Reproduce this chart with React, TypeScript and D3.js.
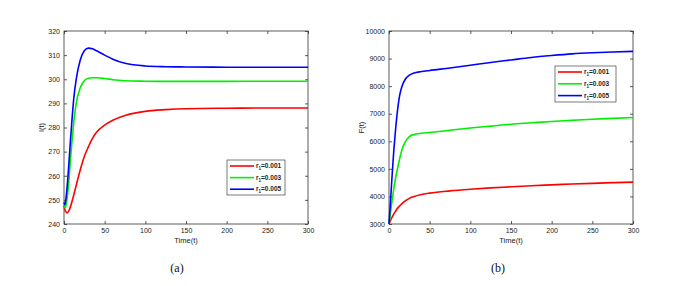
import * as d3 from "d3";
import { useEffect, useRef } from "react";

const W = 686;
const H = 286;

const TIME_TICKS = [0, 50, 100, 150, 200, 250, 300];
const I_TICKS = [240, 250, 260, 270, 280, 290, 300, 310, 320];
const F_TICKS = [3000, 4000, 5000, 6000, 7000, 8000, 9000, 10000];

const LEGEND_LABELS = ["0.001", "0.003", "0.005"];
const COLORS = ["#ff0000", "#00ee00", "#0000ff"];

// panel (a): I(t)
const tI = [0, 1, 2, 4, 6, 8, 10, 12, 15, 20, 25, 30, 35, 40, 50, 60, 75, 100, 125, 150, 200, 250, 300];
const I_r001 = [247.5, 246, 245.2, 244.6, 245.5, 247.2, 249.5, 252, 256, 262.5, 268, 272, 275.5, 278, 281, 283, 285, 286.7, 287.4, 287.8, 288, 288.1, 288.1];
const I_r003 = [248, 246.8, 247.2, 251, 258, 267, 275, 282, 290, 296.5, 299.4, 300.4, 300.6, 300.6, 300.3, 299.8, 299.4, 299.2, 299.1, 299.1, 299.1, 299.2, 299.2];
const I_r005 = [249, 248, 249.5, 256, 265, 275, 284, 292, 300, 308, 311.8, 312.9, 312.6, 311.8, 310, 308.3, 306.6, 305.5, 305.2, 305.1, 305, 305, 305];

// panel (b): F(t)
const tF = [0, 2, 4, 6, 8, 10, 13, 16, 20, 25, 30, 40, 50, 75, 100, 125, 150, 175, 200, 225, 250, 275, 300];
const F_r001 = [3000, 3140, 3260, 3370, 3460, 3550, 3650, 3740, 3840, 3930, 3990, 4070, 4120, 4200, 4260, 4310, 4350, 4390, 4420, 4450, 4475, 4500, 4520];
const F_r003 = [3000, 3450, 3900, 4300, 4650, 4950, 5350, 5700, 5980, 6170, 6240, 6290, 6320, 6400, 6480, 6550, 6620, 6670, 6720, 6760, 6800, 6830, 6860];
const F_r005 = [3000, 3900, 4850, 5700, 6400, 7000, 7650, 8000, 8250, 8400, 8470, 8530, 8570, 8660, 8760, 8860, 8950, 9040, 9110, 9170, 9210, 9240, 9260];

const FONT = "Liberation Sans, Arial, Helvetica, sans-serif";
const SERIF = "Liberation Serif, Times New Roman, serif";

function drawPanel(root, cfg) {
  const { x0, x1, y0, y1, t, series, yDomain, yTicks, yLabel, yLabelX, legend, caption, captionX } = cfg;
  const x = d3.scaleLinear().domain([0, 300]).range([x0, x1]);
  const y = d3.scaleLinear().domain(yDomain).range([y1, y0]);
  const g = root.append("g");

  // box with inward ticks (matlab style)
  g.append("rect")
    .attr("x", x0).attr("y", y0)
    .attr("width", x1 - x0).attr("height", y1 - y0)
    .attr("fill", "#fff").attr("stroke", "#333").attr("stroke-width", 0.8);

  const fmt = d3.format("d");
  const bottom = g.append("g").attr("transform", `translate(0,${y1})`)
    .call(d3.axisBottom(x).tickValues(TIME_TICKS).tickSize(-3).tickPadding(4).tickFormat(fmt));
  const top = g.append("g").attr("transform", `translate(0,${y0})`)
    .call(d3.axisTop(x).tickValues(TIME_TICKS).tickSize(-3).tickFormat(() => ""));
  const left = g.append("g").attr("transform", `translate(${x0},0)`)
    .call(d3.axisLeft(y).tickValues(yTicks).tickSize(-3).tickPadding(4).tickFormat(fmt));
  const right = g.append("g").attr("transform", `translate(${x1},0)`)
    .call(d3.axisRight(y).tickValues(yTicks).tickSize(-3).tickFormat(() => ""));
  [bottom, top, left, right].forEach((a) => {
    a.attr("font-family", null).attr("font-size", null);
    a.select(".domain").remove();
    a.selectAll("line").attr("stroke", "#333").attr("stroke-width", 0.8);
    a.selectAll("text").attr("fill", "#222").style("font-family", FONT).style("font-size", "7px");
  });

  const line = d3.line().x((d) => x(d[0])).y((d) => y(d[1])).curve(d3.curveMonotoneX);
  series.forEach((vals, i) => {
    g.append("path")
      .datum(t.map((tt, k) => [tt, vals[k]]))
      .attr("fill", "none")
      .attr("stroke", COLORS[i])
      .attr("stroke-width", 1.6)
      .attr("d", line);
  });

  g.append("text")
    .attr("x", (x0 + x1) / 2).attr("y", y1 + 19)
    .attr("text-anchor", "middle")
    .style("font-family", FONT).style("font-size", "7.5px").attr("fill", "#222")
    .text("Time(t)");

  g.append("text")
    .attr("transform", `translate(${yLabelX},${(y0 + y1) / 2}) rotate(-90)`)
    .attr("text-anchor", "middle")
    .style("font-family", FONT).style("font-size", "7.5px").attr("fill", "#222")
    .text(yLabel);

  // legend
  const lg = g.append("g");
  lg.append("rect")
    .attr("x", legend.x).attr("y", legend.y)
    .attr("width", legend.w).attr("height", legend.h)
    .attr("fill", "#fff").attr("stroke", "#444").attr("stroke-width", 0.7);
  LEGEND_LABELS.forEach((lab, i) => {
    const ry = legend.y + 6 + i * legend.step;
    lg.append("line")
      .attr("x1", legend.x + 3).attr("x2", legend.x + 27)
      .attr("y1", ry).attr("y2", ry)
      .attr("stroke", COLORS[i]).attr("stroke-width", 1.6);
    const tx = lg.append("text")
      .attr("x", legend.x + 29).attr("y", ry + 2)
      .style("font-family", FONT).style("font-size", "6.5px").attr("font-weight", "bold").attr("fill", "#222");
    tx.append("tspan").text("r");
    tx.append("tspan").style("font-size", "4.5px").attr("dy", 2).text("1");
    tx.append("tspan").attr("dy", -2).text("=" + lab);
  });

  g.append("text")
    .attr("x", captionX).attr("y", 272)
    .attr("text-anchor", "middle")
    .style("font-family", SERIF)
    .style("font-size", "12px").attr("fill", "#111")
    .text(caption);
}

export default function App() {
  const ref = useRef(null);

  useEffect(() => {
    const svg = d3.select(ref.current);
    svg.selectAll("*").remove();
    svg.append("rect").attr("width", W).attr("height", H).attr("fill", "#fff");

    drawPanel(svg, {
      x0: 64, x1: 308, y0: 31, y1: 224,
      t: tI, series: [I_r001, I_r003, I_r005],
      yDomain: [240, 320], yTicks: I_TICKS,
      yLabel: "I(t)", yLabelX: 44,
      legend: { x: 227, y: 160, w: 58, h: 35, step: 11.6 },
      caption: "(a)", captionX: 177,
    });

    drawPanel(svg, {
      x0: 389, x1: 633, y0: 31, y1: 224,
      t: tF, series: [F_r001, F_r003, F_r005],
      yDomain: [3000, 10000], yTicks: F_TICKS,
      yLabel: "F(t)", yLabelX: 364,
      legend: { x: 555, y: 66, w: 61, h: 36, step: 11.8 },
      caption: "(b)", captionX: 498,
    });
  }, []);

  return (
    <svg
      ref={ref}
      width={W}
      height={H}
      style={{ position: "absolute", left: 0, top: 0 }}
    />
  );
}
